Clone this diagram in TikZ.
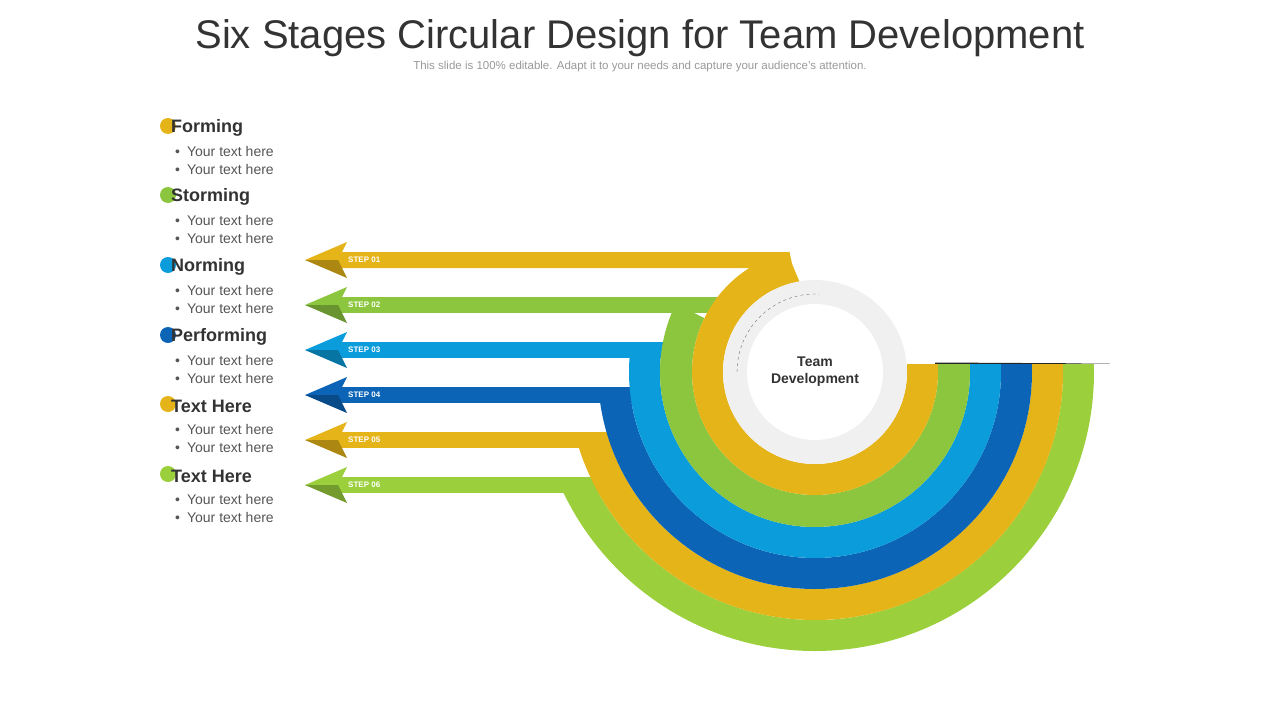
\documentclass[tikz,border=0pt]{standalone}
\usepackage{fontspec}
\setmainfont{Liberation Sans}
\begin{document}
\begin{tikzpicture}[x=1pt,y=-1pt]
\definecolor{cyel}{HTML}{E5B418}
\definecolor{cgrn}{HTML}{8CC63F}
\definecolor{cblu}{HTML}{0A9CDB}
\definecolor{cdbl}{HTML}{0B64B5}
\definecolor{cgrn2}{HTML}{9BCF3C}
\definecolor{ctxt}{HTML}{333333}
\definecolor{cgry}{HTML}{555555}
\tikzset{steplbl/.style={text=white,font=\bfseries\fontsize{8}{9}\selectfont,anchor=west,inner sep=0},
 ttl/.style={font=\bfseries\fontsize{18}{20}\selectfont,text=ctxt,anchor=west,inner sep=0},
 itm/.style={font=\fontsize{14}{16}\selectfont,text=cgry,anchor=west,inner sep=0}}
\useasboundingbox (0,0) rectangle (1280,720);
\node[font=\fontsize{40}{48}\selectfont,text=ctxt] (title) at (640,38) {Six Stages Circular Design for Team Development};
\node[font=\fontsize{11.5}{13}\selectfont,text=black!40] (sub) at (640,67) {This slide is 100\% editable. Adapt it to your needs and capture your audience's attention.};
\coordinate (c) at (815,372);
\fill[black!85] (935,362.5) -- (1110,363.5) -- (935,365) -- cycle;
\foreach \col/\ri/\ro/\ys/\th/\lb [count=\i] in {
 cgrn2/248/279/485/155/06, cyel/217/248/440/163/05, cdbl/186/217/395/174/04,
 cblu/155/186/350/188/03, cgrn/123/155/305/206/02}{
  \pgfmathsetmacro{\xe}{815-10*sqrt((\ri/10)^2-((\ys-372)/10)^2)+12}
  \fill[\col] ([shift={(0:\ro)}]c) arc[start angle=0,end angle=\th,radius=\ro] -- ([shift={(\th:\ri)}]c) arc[start angle=\th,end angle=0,radius=\ri] -- cycle;
  \fill[\col] (815+\ri,364) rectangle (815+\ro,373);
  \fill[\col] (338,\ys-8) rectangle (\xe,\ys+8);
  \fill[\col] (305,\ys) -- (347,\ys-18) -- (338,\ys) -- cycle;
  \fill[\col!75!black] (305,\ys) -- (347,\ys+18) -- (338,\ys) -- cycle;
  \node[steplbl] (s\i) at (348,\ys) {STEP \lb};
}
\fill[cyel] ([shift={(0:123)}]c) arc[start angle=0,end angle=258,radius=123] -- ([shift={(258:92)}]c) arc[start angle=258,end angle=0,radius=92] -- cycle;
\fill[cyel] (938,364) rectangle (907,373);
\fill[cyel] (338,252) -- (787,252) -- (803,290) -- (770,290) -- (757,268) -- (338,268) -- cycle;
\fill[cyel] (305,260) -- (347,242) -- (338,260) -- cycle;
\fill[cyel!75!black] (305,260) -- (347,278) -- (338,260) -- cycle;
\node[steplbl] (s0) at (348,260) {STEP 01};
\fill[black!6] (c) circle (92);
\fill[white] (c) circle (68);
\draw[black!55,dashed,thin] ([shift={(180:78)}]c) arc[start angle=180,end angle=273,radius=78];
\node[font=\bfseries\fontsize{14}{17}\selectfont,text=ctxt,align=center] (td) at (815,372) {Team\\Development};
\foreach \t/\col/\y [count=\j] in {Forming/cyel/127, Storming/cgrn/196, Norming/cblu/266, Performing/cdbl/336, Text Here/cyel/405, Text Here/cgrn2/475}{
  \fill[\col] (168,\y-1) circle (8);
  \node[ttl] (h\j) at (171,\y+1) {\t};
  \node[itm] (a\j) at (175,\y+24) {\textbullet\hspace{7pt}Your text here};
  \node[itm] (b\j) at (175,\y+42) {\textbullet\hspace{7pt}Your text here};
}
\end{tikzpicture}
\end{document}
